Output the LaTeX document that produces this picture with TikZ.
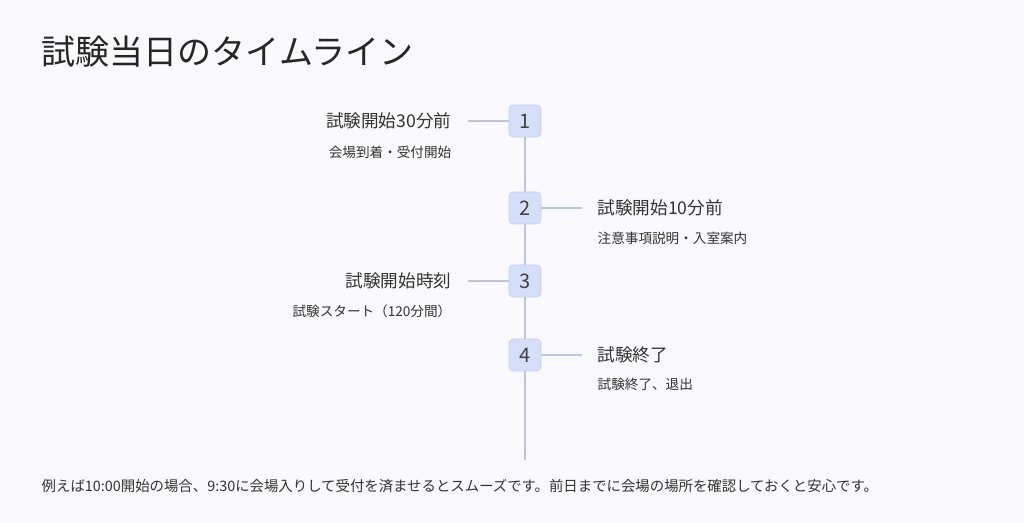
\documentclass[tikz,border=0pt]{standalone}
\usepackage{fontspec}
\setmainfont{Noto Sans CJK JP}
\definecolor{boxfill}{HTML}{D5DFF7}
\definecolor{boxdraw}{HTML}{C2CFF0}
\definecolor{linec}{HTML}{BCC5E0}
\definecolor{bg}{HTML}{F9F9FE}
\begin{document}
\begin{tikzpicture}[x=0.75pt,y=-0.75pt,
  stepbox/.style={draw=boxdraw, fill=boxfill, rounded corners=3pt, minimum size=24pt, inner sep=0pt, font=\fontsize{15}{16}\selectfont, text=black!75},
  conn/.style={draw=linec, line width=1.1pt},
  ttl/.style={font=\fontsize{13.2}{15}\selectfont, text=black!80},
  sub/.style={font=\fontsize{10.2}{12}\selectfont, text=black!80}]
\fill[bg] (0,0) rectangle (1024,523);
\useasboundingbox (0,0) rectangle (1024,523);
\node[anchor=west, font=\fontsize{25.5}{30}\selectfont, text=black!85] (title) at (37,52) {試験当日のタイムライン};
\coordinate (top) at (525,121);
\coordinate (bot) at (525,460);
\draw[conn] (top) -- (bot);
\coordinate (l1) at (468,121);
\coordinate (r2) at (582,208);
\coordinate (l3) at (468,281);
\coordinate (r4) at (582,355);
\node[stepbox] (s1) at (525,121) {1};
\node[stepbox] (s2) at (525,208) {2};
\node[stepbox] (s3) at (525,281) {3};
\node[stepbox] (s4) at (525,355) {4};
\draw[conn] (s1) -- (l1);
\draw[conn] (s2) -- (r2);
\draw[conn] (s3) -- (l3);
\draw[conn] (s4) -- (r4);
\node[ttl, anchor=east] (t1) at (456,121) {試験開始30分前};
\node[sub, anchor=east] (u1) at (456,152) {会場到着・受付開始};
\node[ttl, anchor=west] (t2) at (593,208) {試験開始10分前};
\node[sub, anchor=west] (u2) at (593,238) {注意事項説明・入室案内};
\node[ttl, anchor=east] (t3) at (456,281) {試験開始時刻};
\node[sub, anchor=east] (u3) at (456,311) {試験スタート（120分間）};
\node[ttl, anchor=west] (t4) at (593,355) {試験終了};
\node[sub, anchor=west] (u4) at (593,384) {試験終了、退出};
\node[sub, anchor=west, font=\fontsize{10.8}{12}\selectfont] (foot) at (37,486) {例えば10:00開始の場合、9:30に会場入りして受付を済ませるとスムーズです。前日までに会場の場所を確認しておくと安心です。};
\end{tikzpicture}
\end{document}
